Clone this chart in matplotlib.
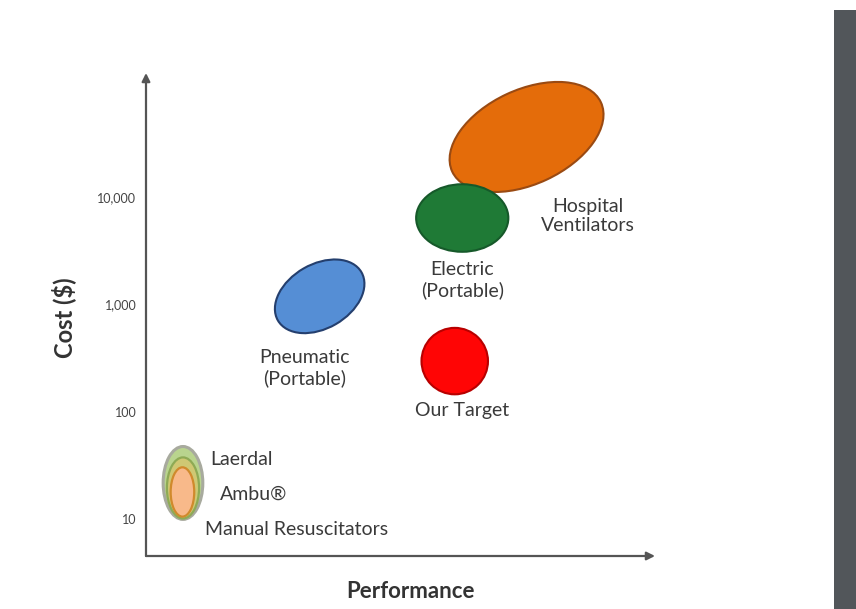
import numpy as np
import matplotlib.pyplot as plt
from matplotlib.patches import Ellipse, Rectangle

plt.rcParams['font.family'] = ['Lato', 'DejaVu Sans']

# categories and their (performance, cost) regions
groups = ["Hospital Ventilators", "Electric (Portable)", "Pneumatic (Portable)", "Our Target"]
perf_center = [3.55, 2.95, 1.62, 2.88]
cost_center = [36500, 6400, 1190, 296]
perf_spread = [1.53, 0.86, 0.90, 0.62]
cost_spread = [0.88, 0.63, 0.60, 0.62]   # decades
tilt = [25, 0, 30, 0]

# manual resuscitators: nested regions (outer -> inner)
manual_perf = [0.345, 0.345, 0.34]
manual_cost = [21.6, 19.4, 17.8]
manual_perf_spread = [0.37, 0.30, 0.22]
manual_cost_spread = [0.68, 0.57, 0.46]

tick_values = [10, 100, 1000, 10000]
tick_labels = ["10", "100", "1,000", "10,000"]

fills = ["#E46C0A", "#1F7A36", "#558ED5", "#FF0505"]
edges = ["#9A4A12", "#16592A", "#243F6E", "#B80000"]
manual_fills = ["#B9D48E", "#CFC873", "#F8B98A"]
manual_edges = ["#A8AA9E", "#8EAA55", "#D08A2C"]

W, H = 856, 609
fig = plt.figure(figsize=(W / 100, H / 100), dpi=100)
ax = fig.add_axes([146 / W, (H - 556) / H, 509 / W, 483 / H])

for i in range(len(groups)):
    e = Ellipse((perf_center[i], np.log10(cost_center[i])), perf_spread[i], cost_spread[i],
                angle=tilt[i], facecolor=fills[i], edgecolor=edges[i], linewidth=1.5, zorder=2 + i)
    ax.add_patch(e)

for i in range(len(manual_perf)):
    e = Ellipse((manual_perf[i], np.log10(manual_cost[i])), manual_perf_spread[i], manual_cost_spread[i],
                facecolor=manual_fills[i], edgecolor=manual_edges[i], linewidth=2.2 if i == 0 else 1.6,
                zorder=10 + i)
    ax.add_patch(e)

txt = dict(color="#3A3A3A", fontsize=14, ha="center", va="center", linespacing=1.2)
ax.text(4.12, 3.825, "Hospital\nVentilators", **txt)
ax.text(2.95, 3.228, "Electric\n(Portable)", **txt)
ax.text(1.48, 2.407, "Pneumatic\n(Portable)", **txt)
ax.text(2.95, 2.006, "Our Target", **txt)
left = dict(txt, ha="left")
ax.text(0.597, 1.549, "Laerdal", **left)
ax.text(0.690, 1.231, "Ambu®", **left)
ax.text(0.550, 0.896, "Manual Resuscitators", **left)

ax.set_xlim(0, 509 / 107.2)
ax.set_ylim(0.653, 5.159)
ax.set_xticks([])
ax.set_yticks(np.log10(tick_values))
ax.set_yticklabels(tick_labels, fontsize=9, color="#444444")
ax.tick_params(axis="y", length=0, pad=7)
for s in ax.spines.values():
    s.set_visible(False)

arrow = dict(arrowstyle="-|>", color="#555555", lw=1.6, mutation_scale=12, shrinkA=0, shrinkB=0)
ax.annotate("", xy=(0, 1), xytext=(0, 0), xycoords="axes fraction", arrowprops=arrow)
ax.annotate("", xy=(1, 0), xytext=(0, 0), xycoords="axes fraction", arrowprops=arrow)

fig.text(410 / W, 1 - 592 / H, "Performance", fontsize=16, fontweight="bold",
         color="#333333", ha="center", va="center")
fig.text(64 / W, 1 - 318 / H, "Cost ($)", fontsize=17, fontweight="bold",
         color="#333333", ha="center", va="center", rotation=90)

# dark strip at right edge
fig.patches.append(Rectangle((834 / W, 0), 1 - 834 / W, 1 - 10 / H, transform=fig.transFigure,
                             facecolor="#52565A", edgecolor="none"))

fig.savefig("out.png", dpi=100)
